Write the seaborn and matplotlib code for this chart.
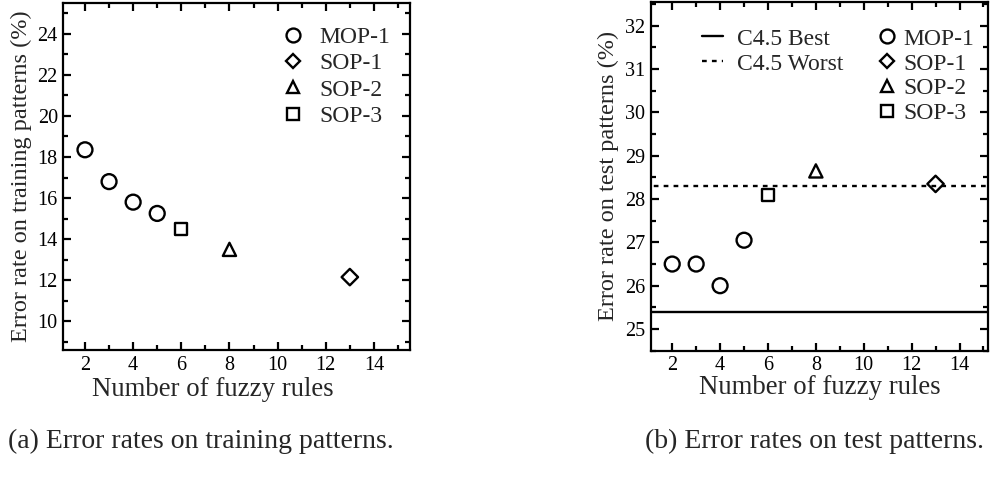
import matplotlib
matplotlib.use("Agg")
import matplotlib.pyplot as plt
from matplotlib.lines import Line2D
from matplotlib.ticker import MultipleLocator
import seaborn as sns
import pandas as pd

sns.set_style("ticks")
plt.rcParams['font.family'] = ['Liberation Serif', 'DejaVu Serif']
plt.rcParams['mathtext.fontset'] = 'stix'

# ---- data ----
methods = ["MOP-1", "SOP-1", "SOP-2", "SOP-3"]
mop1_rules = [2, 3, 4, 5]
mop1_train = [18.35, 16.8, 15.8, 15.25]
mop1_test = [26.5, 26.5, 26.0, 27.05]
sop1_rules = [13]
sop1_train = [12.15]
sop1_test = [28.35]
sop2_rules = [8]
sop2_train = [13.5]
sop2_test = [28.65]
sop3_rules = [6]
sop3_train = [14.5]
sop3_test = [28.1]
c45_best = 25.4
c45_worst = 28.3

xlabel = "Number of fuzzy rules"
ylabel_train = "Error rate on training patterns (%)"
ylabel_test = "Error rate on test patterns (%)"
caption_a = "(a) Error rates on training patterns."
caption_b = "(b) Error rates on test patterns."

rules_by = {"MOP-1": mop1_rules, "SOP-1": sop1_rules, "SOP-2": sop2_rules, "SOP-3": sop3_rules}
train_by = {"MOP-1": mop1_train, "SOP-1": sop1_train, "SOP-2": sop2_train, "SOP-3": sop3_train}
test_by = {"MOP-1": mop1_test, "SOP-1": sop1_test, "SOP-2": sop2_test, "SOP-3": sop3_test}

rows = []
for m in methods:
    for r, tr, te in zip(rules_by[m], train_by[m], test_by[m]):
        rows.append({"method": m, "rules": r, "train": tr, "test": te})
df = pd.DataFrame(rows)

marker_map = {"MOP-1": "o", "SOP-1": "D", "SOP-2": "^", "SOP-3": "s"}
size_map = {"MOP-1": 115, "SOP-1": 70, "SOP-2": 90, "SOP-3": 78}
leg_ms = {"MOP-1": 10, "SOP-1": 7.5, "SOP-2": 8.5, "SOP-3": 8.5}

fig = plt.figure(figsize=(9.94, 4.96), dpi=100)
ax1 = fig.add_axes([0.0637, 0.2944, 0.3488, 0.6996])
ax2 = fig.add_axes([0.6546, 0.2930, 0.3396, 0.7030])

LW = 1.6
TICK_FS = 14.5
XLABEL_FS = 19.3
YLABEL_FS = 17.5
LEG_FS = 17

def draw(ax, ycol):
    for m in methods:
        sub = df[df["method"] == m]
        sns.scatterplot(data=sub, x="rules", y=ycol, ax=ax, marker=marker_map[m],
                        s=size_map[m], facecolor="none", edgecolor="black",
                        linewidth=1.7, legend=False, zorder=3)
    for sp in ax.spines.values():
        sp.set_linewidth(LW)
        sp.set_color("black")
    ax.tick_params(which="both", direction="in", top=True, right=True,
                   width=LW, colors="black", labelsize=TICK_FS, pad=4)
    ax.tick_params(which="major", length=6)
    ax.tick_params(which="minor", length=3.5)
    ax.xaxis.set_major_locator(MultipleLocator(2))
    ax.xaxis.set_minor_locator(MultipleLocator(1))
    ax.set_xlabel(xlabel, fontsize=XLABEL_FS, labelpad=0)

draw(ax1, "train")
ax1.set_xlim(1.1, 15.5)
ax1.set_ylim(8.6, 25.5)
ax1.yaxis.set_major_locator(MultipleLocator(2))
ax1.yaxis.set_minor_locator(MultipleLocator(1))
ax1.set_ylabel(ylabel_train, fontsize=YLABEL_FS, labelpad=4)
ax1.xaxis.set_label_coords(0.43, -0.115, transform=ax1.transAxes)
ax1.xaxis.label.set_va("center")

draw(ax2, "test")
sns.lineplot(x=[0, 20], y=[c45_best, c45_best], ax=ax2, color="black", lw=1.7, zorder=2)
sns.lineplot(x=[0, 20], y=[c45_worst, c45_worst], ax=ax2, color="black", lw=1.7,
             linestyle=(0, (2, 2.2)), zorder=2)
ax2.set_xlim(1.1, 15.2)
ax2.set_ylim(24.5, 32.55)
ax2.yaxis.set_major_locator(MultipleLocator(1))
ax2.yaxis.set_minor_locator(MultipleLocator(0.5))
ax2.set_ylabel(ylabel_test, fontsize=YLABEL_FS, labelpad=4)

def marker_handles():
    return [Line2D([], [], linestyle="", marker=marker_map[m], markersize=leg_ms[m],
                   markerfacecolor="none", markeredgecolor="black", markeredgewidth=1.7,
                   label=m) for m in methods]

ax1.legend(handles=marker_handles(), loc="upper left", bbox_to_anchor=(0.595, 0.959),
           frameon=False, fontsize=LEG_FS, handletextpad=0.5, labelspacing=0.2,
           borderaxespad=0, handlelength=1.2)

l2 = ax2.legend(handles=marker_handles(), loc="upper left", bbox_to_anchor=(0.643, 0.952),
                frameon=False, fontsize=LEG_FS, handletextpad=0.29, labelspacing=0.14,
                borderaxespad=0, handlelength=0.8)
ax2.add_artist(l2)
line_handles = [
    Line2D([], [], color="black", lw=1.7, label="C4.5 Best"),
    Line2D([], [], color="black", lw=1.7, linestyle=(0, (2, 2.2)), label="C4.5 Worst"),
]
ax2.legend(handles=line_handles, loc="upper left", bbox_to_anchor=(0.123, 0.952),
           frameon=False, fontsize=LEG_FS, handletextpad=0.58, labelspacing=0.14,
           borderaxespad=0, handlelength=0.9)

fig.text(0.008, 0.11, caption_a, fontsize=20, ha="left", va="center")
fig.text(0.99, 0.11, caption_b, fontsize=20, ha="right", va="center")

fig.savefig("out.png", dpi=100)
